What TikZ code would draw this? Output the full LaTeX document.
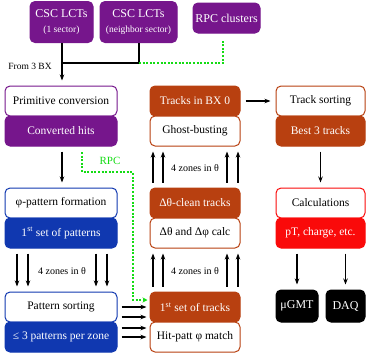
\documentclass[tikz,border=0pt]{standalone}
\usepackage{fontspec}
\setmainfont{Liberation Serif}
\usetikzlibrary{arrows.meta}
\definecolor{cpurple}{RGB}{118,22,140}
\definecolor{corange}{RGB}{184,64,16}
\definecolor{cblue}{RGB}{16,56,176}
\definecolor{cred}{RGB}{250,10,10}
\definecolor{cgreen}{RGB}{20,220,20}
\tikzset{
  box/.style={rounded corners=5pt, minimum height=30pt, inner sep=0pt, line width=1pt, font=\fontsize{11.5}{12}\selectfont},
  wbox/.style={box, draw=#1, fill=white, text=black},
  cbox/.style={box, draw=#1, fill=#1, text=white},
  arr/.style={line width=1.1pt, -{Stealth[length=6pt,width=4.5pt]}, shorten <=5pt, shorten >=5pt},
  garr/.style={line width=1.3pt, cgreen, dash pattern=on 2pt off 1.6pt, -{Stealth[length=5pt,width=5pt]}},
  gline/.style={line width=1.3pt, cgreen, dash pattern=on 2pt off 1.6pt},
  zlabel/.style={font=\fontsize{10}{11}\selectfont, inner sep=1pt},
}
\begin{document}
\begin{tikzpicture}[x=1pt,y=-1pt]
\useasboundingbox (0,0) rectangle (366,362);
% top
\node[cbox=cpurple, minimum width=63pt, minimum height=41pt, align=center, font=\fontsize{12}{13}\selectfont] (csc1) at (61.5,22)
  {CSC LCTs\\[2pt]{\fontsize{9.5}{10}\selectfont (1 sector)}};
\node[cbox=cpurple, minimum width=77pt, minimum height=41pt, align=center, font=\fontsize{12}{13}\selectfont] (csc2) at (138.5,22)
  {CSC LCTs\\[2pt]{\fontsize{9.5}{10}\selectfont (neighbor sector)}};
\node[cbox=cpurple, minimum width=67pt, font=\fontsize{12}{13}\selectfont] (rpc) at (226.5,18) {RPC clusters};
% left column
\node[wbox=cpurple, minimum width=112pt] (prim) at (61,101) {Primitive conversion};
\node[cbox=cpurple, minimum width=112pt] (conv) at (61,131) {Converted hits};
\node[wbox=cblue, minimum width=112pt] (phi) at (61,203) {φ-pattern formation};
\node[cbox=cblue, minimum width=112pt] (pat1) at (61,233) {1\textsuperscript{st} set of patterns};
\node[wbox=cblue, minimum width=112pt] (psort) at (61,307) {Pattern sorting};
\node[cbox=cblue, minimum width=112pt] (le3) at (61,337) {≤ 3 patterns per zone};
% middle column
\node[cbox=corange, minimum width=90pt] (tbx0) at (195,101) {Tracks in BX 0};
\node[wbox=corange, minimum width=90pt] (ghost) at (195,131) {Ghost-busting};
\node[cbox=corange, minimum width=90pt] (dclean) at (195,203) {Δθ-clean tracks};
\node[wbox=corange, minimum width=90pt] (dcalc) at (195,233) {Δθ and Δφ calc};
\node[cbox=corange, minimum width=90pt] (tset1) at (195,307) {1\textsuperscript{st} set of tracks};
\node[wbox=corange, minimum width=90pt] (hitp) at (195,337) {Hit-patt φ match};
% right column
\node[wbox=corange, minimum width=89pt] (tsort) at (320.5,101) {Track sorting};
\node[cbox=corange, minimum width=89pt] (best3) at (320.5,131) {Best 3 tracks};
\node[wbox=cred, minimum width=89pt] (calc) at (320.5,203) {Calculations};
\node[cbox=cred, minimum width=89pt] (ptc) at (320.5,233) {pT, charge, etc.};
\node[cbox=black, minimum width=42pt, minimum height=32pt, font=\fontsize{12}{13}\selectfont] (mugmt) at (297,306) {μGMT};
\node[cbox=black, minimum width=39pt, minimum height=32pt, font=\fontsize{12}{13}\selectfont] (daq) at (345.5,306) {DAQ};
% labels
\node[zlabel, font=\fontsize{9.5}{10}\selectfont] (from3) at (30,66) {From 3 BX};
\node[zlabel] (zl) at (62,271) {4 zones in θ};
\node[zlabel] (zm1) at (195,168) {4 zones in θ};
\node[zlabel] (zm2) at (195,271) {4 zones in θ};
\node[text=cgreen, font=\fontsize{11}{12}\selectfont, inner sep=1pt] (rpclab) at (110,161) {RPC};
% top connectors
\coordinate (j1) at (62,63);
\coordinate (j2) at (139,63);
\coordinate (g1) at (223,63);
\coordinate (g2) at (223,40);
\draw[arr, shorten <=0pt] (csc1.south -| j1) -- (prim.north -| j1);
\draw[line width=1.1pt] (csc2.south -| j2) -- (j2) -- (j1);
\draw[gline] (j2) -- (g1) -- (g2);
% left column arrows
\draw[arr] (conv.south -| j1) -- (phi.north -| j1);
\foreach \dx in {-44,-33,35,46} {
  \draw[arr] ([xshift=\dx pt]pat1.south) -- ([xshift=\dx pt]psort.north);
}
% green RPC path
\coordinate (r1) at (82,152);
\coordinate (r2) at (82,172);
\coordinate (r3) at (133,172);
\coordinate (r4) at (133,300);
\draw[garr] (r1) -- (r2) -- (r3) -- (r4) -- ([xshift=-2pt,yshift=7pt]tset1.west);
% horizontal arrows to tracks
\draw[arr, shorten <=4pt, shorten >=3pt] (psort.east) -- (tset1.west);
\draw[arr, shorten <=4pt, shorten >=3pt] ([yshift=-10pt]psort.east) -- ([yshift=-10pt]tset1.west);
\draw[arr, shorten <=4pt, shorten >=3pt] ([yshift=9pt]le3.east) -- ([yshift=9pt]hitp.west);
\draw[arr, shorten <=4pt, shorten >=3pt] (le3.east) -- (hitp.west);
% middle up arrows
\foreach \dx in {-42,-32,32,43} {
  \draw[arr] ([xshift=\dx pt]tset1.north) -- ([xshift=\dx pt]dcalc.south);
  \draw[arr] ([xshift=\dx pt]dclean.north) -- ([xshift=\dx pt]ghost.south);
}
% right
\draw[arr] (tbx0.east) -- (tsort.west);
\draw[arr] (best3.south) -- (calc.north);
\draw[arr] (ptc.south -| mugmt) -- (mugmt.north);
\draw[arr] (ptc.south -| daq) -- (daq.north);
\end{tikzpicture}
\end{document}
